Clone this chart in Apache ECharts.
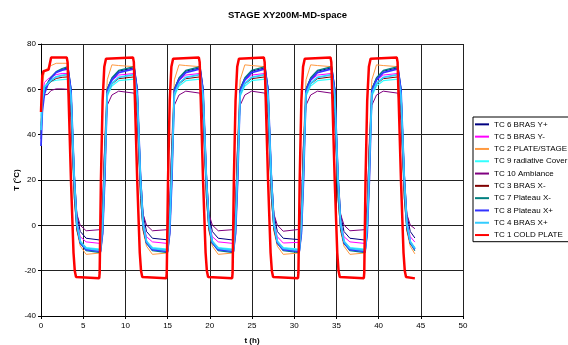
<!DOCTYPE html>
<html>
<head>
<meta charset="utf-8">
<script src="https://cdn.jsdelivr.net/npm/echarts@6/dist/echarts.min.js"></script>
<style>
html,body{margin:0;padding:0;background:#fff;}
#chart{width:568px;height:345px;}
</style>
</head>
<body>
<div id="chart"></div>
<script>
// Time axis (h) for TC 1 COLD PLATE
const redTimes = [0, 0.15, 0.3, 0.9, 1.2, 3.05,
  3.15, 3.55, 3.85, 4.0, 4.15, 4.35, 6.9, 6.95, 7.1, 7.3, 7.5, 7.7, 7.85,
  10.9, 11.0, 11.4, 11.7, 11.85, 12.0, 12.2, 14.85, 14.9, 15.05, 15.25, 15.45, 15.65, 15.8,
  18.7, 18.8, 19.2, 19.5, 19.65, 19.8, 20.0, 22.65, 22.7, 22.85, 23.05, 23.25, 23.45, 23.6,
  26.4, 26.5, 26.9, 27.2, 27.35, 27.5, 27.7, 30.45, 30.5, 30.65, 30.85, 31.05, 31.25, 31.4,
  34.3, 34.4, 34.8, 35.1, 35.25, 35.4, 35.6, 38.25, 38.3, 38.45, 38.65, 38.85, 39.05, 39.2,
  42.15, 42.25, 42.65, 42.95, 43.1, 43.25, 43.45, 44.3];
const tc1 = [50, 66, 68, 68.7, 74, 74,
  72, 20, -12, -20, -22.8, -23.5, -23.3, -21, 20, 55, 70, 73.5, 74,
  74, 72, 20, -12, -20, -22.8, -23.5, -23.3, -21, 20, 55, 70, 73.5, 74,
  74, 72, 20, -12, -20, -22.8, -23.5, -23.3, -21, 20, 55, 70, 73.5, 74,
  74, 72, 20, -12, -20, -22.8, -23.5, -23.3, -21, 20, 55, 70, 73.5, 74,
  74, 72, 20, -12, -20, -22.8, -23.5, -23.3, -21, 20, 55, 70, 73.5, 74,
  74, 72, 20, -12, -20, -22.8, -23.5, -23.4];

// Time axis (h) shared by the other thermocouples
const times = [0, 0.15, 0.4, 0.8, 1.2, 1.8, 2.5,
  3.2, 3.55, 3.95, 4.25, 4.65, 5.35, 7.05, 7.3, 7.55, 7.85, 8.4, 9.2,
  11.05, 11.4, 11.8, 12.1, 12.5, 13.2, 15.0, 15.25, 15.5, 15.8, 16.35, 17.15,
  18.85, 19.2, 19.6, 19.9, 20.3, 21.0, 22.8, 23.05, 23.3, 23.6, 24.15, 24.95,
  26.55, 26.9, 27.3, 27.6, 28.0, 28.7, 30.6, 30.85, 31.1, 31.4, 31.95, 32.75,
  34.45, 34.8, 35.2, 35.5, 35.9, 36.6, 38.4, 38.65, 38.9, 39.2, 39.75, 40.55,
  42.3, 42.65, 43.05, 43.35, 43.75, 44.3];

const tc6 = [38, 52, 60, 63, 65.5, 67.5, 68.8,
  69.5, 60.4, 23.1, 4.9, -2.7, -5.7, -6.5, 1.1, 23.1, 60.4, 64.9, 68.0,
  69.5, 60.4, 23.1, 4.9, -2.7, -5.7, -6.4, 1.1, 23.1, 60.4, 64.9, 68.0,
  69.5, 60.4, 23.1, 4.9, -2.7, -5.7, -6.5, 1.1, 23.1, 60.4, 64.9, 68.0,
  69.5, 60.4, 23.1, 4.9, -2.7, -5.7, -6.3, 1.1, 23.1, 60.4, 64.9, 68.0,
  69.5, 60.4, 23.1, 4.9, -2.7, -5.7, -6.5, 1.1, 23.1, 60.4, 64.9, 68.0,
  69.5, 60.4, 23.1, 4.9, -2.7, -5.6];
const tc5 = [42, 56, 63, 64.5, 65.5, 66.5, 67,
  67, 52, 14.5, 1, -5, -7.3, -8, 7, 37, 59.5, 64, 66.3,
  67, 52, 14.5, 1, -5, -7.3, -8, 7, 37, 59.5, 64, 66.3,
  67, 52, 14.5, 1, -5, -7.3, -8, 7, 37, 59.5, 64, 66.3,
  67, 52, 14.5, 1, -5, -7.8, -7.5, 7, 37, 59.5, 64, 66.3,
  67, 52, 14.5, 1, -5, -7.3, -8, 7, 37, 59.5, 64, 66.3,
  67, 52, 14.5, 1, -5, -7.4];
const tc2 = [45, 62, 68, 69.5, 70.5, 71.5, 71.5,
  71.5, 54.7, 12.7, -2.4, -9.1, -12.8, -12.2, 4.4, 37.6, 64.2, 70.8, 70.5,
  70, 53.5, 12.3, -2.6, -9.2, -12.8, -12.2, 4.4, 37.6, 64.2, 70.8, 70.5,
  70, 53.5, 12.3, -2.6, -9.2, -12.8, -12.2, 4.4, 37.6, 64.2, 70.8, 70.5,
  70, 53.5, 12.3, -2.6, -9.2, -12.8, -12.2, 4.4, 37.6, 64.2, 70.8, 70.5,
  70, 53.5, 12.3, -2.6, -9.2, -12.8, -12.2, 4.4, 37.6, 64.2, 70.8, 70.5,
  70, 53.5, 12.3, -2.6, -9.2, -12.6];
const tc9 = [48, 58, 61.5, 62.5, 63.5, 64, 64.3,
  64.5, 49.5, 12, -1.5, -7.5, -9.8, -10.5, 4.5, 34.5, 57, 61.5, 63.8,
  64.5, 49.5, 12, -1.5, -7.5, -9.8, -10.5, 4.5, 34.5, 57, 61.5, 63.8,
  64.5, 49.5, 12, -1.5, -7.5, -9.8, -10.5, 4.5, 34.5, 57, 61.5, 63.8,
  64.5, 49.5, 12, -1.5, -7.5, -9.8, -10.5, 4.5, 34.5, 57, 61.5, 63.8,
  64.5, 49.5, 12, -1.5, -7.5, -9.8, -10.5, 4.5, 34.5, 57, 61.5, 63.8,
  64.5, 49.5, 12, -1.5, -7.5, -9.8];
const tc10 = [44, 54, 57.5, 57.8, 59.5, 60.2, 60.2,
  60, 47.5, 16.3, 5, 0, -2.4, -1.9, 10.3, 34.7, 53, 57.5, 59.2,
  58.3, 46.2, 15.6, 4.9, 0.1, -2.4, -1.9, 10.3, 34.7, 53, 57.5, 59.2,
  58.3, 46.2, 15.6, 4.9, 0.1, -2.4, -1.9, 10.3, 34.7, 53, 57.5, 59.2,
  58.3, 46.2, 15.6, 4.9, 0.1, -2.6, -1.8, 10.3, 34.7, 53, 57.5, 59.2,
  58.3, 46.2, 15.6, 4.9, 0.1, -2.4, -1.9, 10.3, 34.7, 53, 57.5, 59.2,
  58.3, 46.2, 15.6, 4.9, 0.1, -1.5];
const tc3 = [40, 55, 60, 62, 63.5, 64.8, 65.3,
  65.5, 50.2, 11.8, -2, -8.1, -10.4, -11.2, 4.1, 34.8, 57.8, 62.4, 64.7,
  65.5, 50.2, 11.8, -2, -8.1, -10.4, -11.2, 4.1, 34.8, 57.8, 62.4, 64.7,
  65.5, 50.2, 11.8, -2, -8.1, -10.4, -11.2, 4.1, 34.8, 57.8, 62.4, 64.7,
  65.5, 50.2, 11.8, -2, -8.1, -10.4, -11.2, 4.1, 34.8, 57.8, 62.4, 64.7,
  65.5, 50.2, 11.8, -2, -8.1, -10.4, -11.2, 4.1, 34.8, 57.8, 62.4, 64.7,
  65.5, 50.2, 11.8, -2, -8.1, -10.4];
const tc7 = [40, 54, 60, 63, 65.5, 67.8, 69.2,
  70, 60.2, 20, 0.3, -7.9, -11.2, -12, -3.8, 20, 60.2, 65.1, 68.4,
  70, 60.2, 20, 0.3, -7.9, -11.2, -12, -3.8, 20, 60.2, 65.1, 68.4,
  70, 60.2, 20, 0.3, -7.9, -11.2, -12, -3.8, 20, 60.2, 65.1, 68.4,
  70, 60.2, 20, 0.3, -7.9, -11.2, -12, -3.8, 20, 60.2, 65.1, 68.4,
  70, 60.2, 20, 0.3, -7.9, -11.2, -12, -3.8, 20, 60.2, 65.1, 68.4,
  70, 60.2, 20, 0.3, -7.9, -11.2];
const tc8 = [35, 50, 58, 62, 65, 67.5, 68.5,
  69, 59.8, 19.9, 0.6, -7.5, -10.7, -11.5, -3.5, 19.9, 59.3, 64.2, 67.4,
  69, 59.8, 19.9, 0.6, -7.5, -10.7, -11.5, -3.5, 19.9, 59.3, 64.2, 67.4,
  69, 59.8, 19.9, 0.6, -7.5, -10.7, -11.5, -3.5, 19.9, 59.3, 64.2, 67.4,
  69, 59.8, 19.9, 0.6, -7.5, -10.7, -11.5, -3.5, 19.9, 59.3, 64.2, 67.4,
  69, 59.8, 19.9, 0.6, -7.5, -10.7, -11.5, -3.5, 19.9, 59.3, 64.2, 67.4,
  69, 59.8, 19.9, 0.6, -7.5, -10.5];
const tc4 = [42, 55, 61, 62.5, 64, 65.5, 66.2,
  66.5, 57.2, 19.2, 0.6, -7.1, -10.2, -11, 0.6, 26.2, 58, 62.6, 65.3,
  66.5, 57.2, 19.2, 0.6, -7.1, -10.2, -11, 0.6, 26.2, 58, 62.6, 65.3,
  66.5, 57.2, 19.2, 0.6, -7.1, -10.2, -11, 0.6, 26.2, 58, 62.6, 65.3,
  66.5, 57.2, 19.2, 0.6, -7.1, -10.2, -11, 0.6, 26.2, 58, 62.6, 65.3,
  66.5, 57.2, 19.2, 0.6, -7.1, -10.2, -11, 0.6, 26.2, 58, 62.6, 65.3,
  66.5, 57.2, 19.2, 0.6, -7.1, -10.2];

const seriesNames = ['TC 6 BRAS Y+', 'TC 5 BRAS Y-', 'TC 2 PLATE/STAGE', 'TC 9 radiative Cover',
  'TC 10 Ambiance', 'TC 3 BRAS X-', 'TC 7 Plateau X-', 'TC 8 Plateau X+', 'TC 4 BRAS X+', 'TC 1 COLD PLATE'];
const seriesColors = ['#000080', '#FF00FF', '#FF9940', '#33FFFF', '#800080', '#800000', '#008080', '#3333FF', '#33CCFF', '#FF0000'];
const seriesWidths = [1, 1, 1, 1.2, 1, 1, 1.2, 1.8, 1.8, 2.5];
const seriesValues = [tc6, tc5, tc2, tc9, tc10, tc3, tc7, tc8, tc4, tc1];
const xTicks = [0, 5, 10, 15, 20, 25, 30, 35, 40, 45, 50];
const yTicks = [-40, -20, 0, 20, 40, 60, 80];

const FONT = '"Liberation Sans", Arial, sans-serif';
const series = seriesNames.map((name, i) => {
  const tArr = (i === 9) ? redTimes : times;
  return {
    name: name,
    type: 'line',
    showSymbol: false,
    symbol: 'none',
    smooth: false,
    data: tArr.map((t, j) => [t, seriesValues[i][j]]),
    lineStyle: { color: seriesColors[i], width: seriesWidths[i] },
    itemStyle: { color: seriesColors[i] },
    z: 2 + i
  };
});

const chart = echarts.init(document.getElementById('chart'), null, { renderer: 'canvas' });
chart.setOption({
  animation: false,
  backgroundColor: '#fff',
  textStyle: { fontFamily: FONT },
  title: {
    text: 'STAGE XY200M-MD-space',
    left: 228, top: 10, padding: 0,
    textStyle: { fontFamily: FONT, fontSize: 9.5, fontWeight: 'bold', color: '#000' }
  },
  grid: { left: 41, right: 105, top: 44, bottom: 29, containLabel: false, outerBoundsMode: 'none' },
  legend: {
    orient: 'vertical',
    left: 473, top: 117,
    padding: [1.2, 4, 0.5, 2],
    itemGap: 0,
    itemWidth: 14, itemHeight: 2,
    icon: 'rect',
    borderColor: '#000', borderWidth: 1,
    backgroundColor: '#fff',
    data: seriesNames,
    textStyle: { fontFamily: FONT, fontSize: 8, color: '#000', lineHeight: 12.3 }
  },
  xAxis: {
    type: 'value', min: xTicks[0], max: xTicks[xTicks.length - 1], interval: 5,
    name: 't (h)', nameLocation: 'middle', nameGap: 21, nameMoveOverlap: false,
    nameTextStyle: { fontFamily: FONT, fontSize: 8, fontWeight: 'bold', color: '#000' },
    axisLine: { show: true, onZero: false, lineStyle: { color: '#000', width: 1 } },
    axisTick: { show: true, length: 3, lineStyle: { color: '#000' } },
    axisLabel: { fontFamily: FONT, fontSize: 8, color: '#000', margin: 6 },
    splitLine: { show: true, lineStyle: { color: '#222', width: 1 } }
  },
  yAxis: {
    type: 'value', min: yTicks[0], max: yTicks[yTicks.length - 1], interval: 20,
    name: 'T (°C)', nameLocation: 'middle', nameGap: 20, nameMoveOverlap: false,
    nameTextStyle: { fontFamily: FONT, fontSize: 8, fontWeight: 'bold', color: '#000' },
    axisLine: { show: true, onZero: false, lineStyle: { color: '#000', width: 1 } },
    axisTick: { show: true, length: 3, lineStyle: { color: '#000' } },
    axisLabel: { fontFamily: FONT, fontSize: 8, color: '#000', margin: 5 },
    splitLine: { show: true, lineStyle: { color: '#222', width: 1 } }
  },
  series: series
});
</script>
</body>
</html>
